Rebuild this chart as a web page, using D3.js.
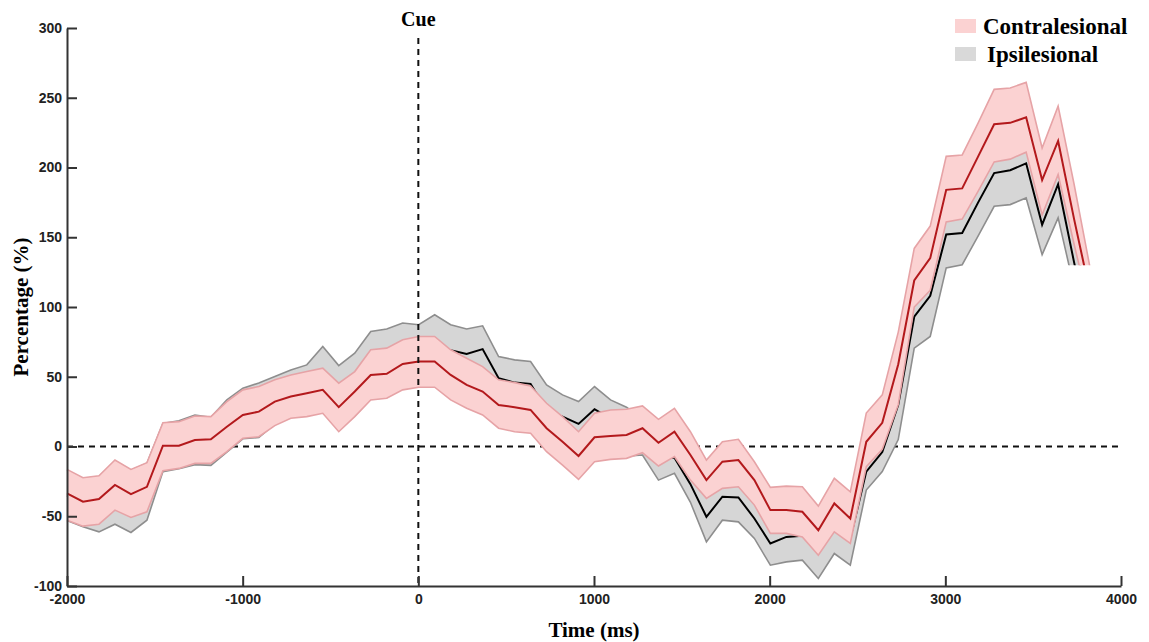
<!DOCTYPE html>
<html>
<head>
<meta charset="utf-8">
<script src="https://cdn.jsdelivr.net/npm/d3@7"></script>
<style>
  body { margin: 0; background: #fff; }
  svg { display: block; }
</style>
</head>
<body>
<div id="chart"></div>
<script>
// 1. data
const times = [-2000, -1909, -1818, -1727, -1636, -1545, -1454, -1363, -1272, -1181,
  -1090, -999, -908, -817, -726, -635, -544, -453, -362, -271,
  -180, -89, 2, 93, 184, 275, 366, 457, 548, 639,
  730, 821, 912, 1003, 1094, 1185, 1276, 1367, 1458, 1549,
  1640, 1731, 1822, 1913, 2004, 2095, 2186, 2277, 2368, 2459,
  2550, 2641, 2732, 2823, 2914, 3005, 3096, 3187, 3278, 3369,
  3460, 3551, 3642, 3733, 3824]

const contraMean = [-33.6, -39.6, -37.7, -27.6, -34.1, -28.9, 0.6, 0.6, 4.7, 5.2,
  14.2, 22.6, 25, 32.2, 35.8, 38.2, 40.6, 28.2, 39.4, 51.3,
  52.1, 59.2, 61, 61, 51.3, 44.2, 39.4, 29.8, 28.2, 26.2,
  13.1, 3.4, -6.8, 6.6, 7.5, 8.3, 13.1, 2.7, 10.6, -6.1,
  -24.1, -10.9, -9.7, -24.1, -45.6, -45.6, -46.8, -60, -40.8, -51.6,
  3.4, 17, 59, 119, 135, 184, 185, 208, 231, 232,
  236, 191, 219, 163, 110]
const contraUpper = [-16.4, -22.4, -21, -9.7, -16.4, -11.6, 17.1, 17.8, 21.9, 21.4,
  32.2, 40.6, 43, 47.8, 51.3, 53.7, 56.2, 45.4, 53.7, 69.3,
  70.5, 76.5, 78.9, 78.9, 69.3, 63.3, 57.3, 47.8, 45.8, 43.4,
  31, 21.4, 10.6, 23.8, 26.2, 26.7, 29.1, 19.5, 27.4, 10.6,
  -9.7, 3.4, 5.2, -10.9, -29.3, -28.4, -28.9, -42.7, -22.8, -32.5,
  24, 37, 82, 142, 158, 208, 209, 232, 256, 257,
  261, 214, 244, 188, 128]
const contraLower = [-52.8, -57.1, -55.7, -45.6, -50.9, -46.8, -17.4, -15.7, -12.1, -12.1,
  -3.7, 5.9, 7, 15, 20.3, 21.4, 23.8, 10.6, 21.4, 33.4,
  34.6, 40.6, 42.5, 42.5, 33.4, 27.4, 22.6, 13.1, 10.6, 9.5,
  -3.7, -13.3, -23.6, -10.9, -9.2, -8.5, -4.5, -14, -7.3, -24.1,
  -37.2, -30, -28.9, -42, -62.3, -62.3, -64.8, -77.9, -61.2, -69.5,
  -14.5, -2, 30, 100, 112, 161, 163, 183, 204, 206,
  211, 166, 195, 145, 97]

const ipsiMean = [-35, -40, -41, -33, -38, -31, -1, 1, 5, 4,
  15, 23, 26, 33, 37, 40, 46, 34, 44, 57,
  59, 64, 64, 70, 69, 66.4, 69.8, 49, 45.8, 44.9,
  26.2, 21.4, 16.2, 26.7, 20, 15, 6, -8, -8, -27,
  -50.4, -36, -36.5, -51.6, -69.5, -64.8, -64, -72, -57, -66,
  -18, -4, 30, 93, 108, 152, 153, 175, 196, 198,
  203, 159, 188, 132, 80]
const ipsiUpper = [-17, -23, -21.5, -10.5, -17, -12, 16.5, 18.5, 22.5, 21,
  33.4, 41.8, 45.5, 50.1, 54.9, 58.5, 71.7, 58, 66.9, 82.4,
  84.2, 88.5, 87.3, 94.4, 87.3, 84.2, 86.5, 64.5, 62.1, 60.9,
  44.2, 37, 32.2, 43, 33.4, 28.2, 20, 8, 10, -10,
  -34, -21, -21, -36, -55, -48, -48, -52, -40, -48,
  -5, 8, 50, 110, 125, 166, 168, 188, 208, 210,
  215, 170, 199, 150, 100]
const ipsiLower = [-53, -57.5, -61.2, -55.7, -61.6, -52.8, -18, -16, -13, -13.5,
  -4, 5.5, 6.5, 16, 21, 22, 25, 12, 22, 34,
  35, 42, 43, 45, 36, 30, 25, 16, 13, 12,
  0, -10, -20, -8, -7, -7, -6.1, -24.1, -19.2, -40,
  -68.4, -52.8, -54, -65.9, -85.1, -82.7, -81.5, -94.6, -76.7, -85.1,
  -31.2, -18, 5, 70.5, 78.9, 128, 130.3, 151, 172.2, 173.4,
  178.2, 137.5, 163.9, 114, 68]

const xTicks = [-2000, -1000, 0, 1000, 2000, 3000, 4000]
const yTicks = [-100, -50, 0, 50, 100, 150, 200, 250, 300]
const legendLabels = ["Contralesional", "Ipsilesional"]

const rows = times.map((t, i) => ({
  t: t,
  cMean: contraMean[i], cUp: contraUpper[i], cLo: contraLower[i],
  iMean: ipsiMean[i], iUp: ipsiUpper[i], iLo: ipsiLower[i],
}))

// 2. dimensions
let dimensions = {
  width: 1149,
  height: 642,
  margin: { top: 28, right: 28, bottom: 56, left: 67 },
}
dimensions.boundedWidth = dimensions.width - dimensions.margin.left - dimensions.margin.right
dimensions.boundedHeight = dimensions.height - dimensions.margin.top - dimensions.margin.bottom

// 3. canvas
const wrapper = d3.select("#chart")
  .append("svg")
    .attr("width", dimensions.width)
    .attr("height", dimensions.height)

const bounds = wrapper.append("g")
  .attr("transform", `translate(${dimensions.margin.left},${dimensions.margin.top})`)

// 4. scales
const xScale = d3.scaleLinear()
  .domain([-2000, 4000])
  .range([0, dimensions.boundedWidth])

const yScale = d3.scaleLinear()
  .domain([-100, 300])
  .range([dimensions.boundedHeight, 0])

const xAccessor = d => xScale(d.t)

// the traces are cut flat at 130 % on the far right of the figure
const clip = bounds.append("defs").append("clipPath").attr("id", "cut")
clip.append("rect")
  .attr("x", -5).attr("y", -5)
  .attr("width", dimensions.boundedWidth + 10)
  .attr("height", yScale(130) + 5)
clip.append("rect")
  .attr("x", -5).attr("y", -5)
  .attr("width", xScale(3600) + 5)
  .attr("height", dimensions.boundedHeight + 10)

// zero reference line (under the traces)
bounds.append("line")
  .attr("x1", 0).attr("x2", dimensions.boundedWidth)
  .attr("y1", yScale(0)).attr("y2", yScale(0))
  .attr("stroke", "#111")
  .attr("stroke-width", 2)
  .attr("stroke-dasharray", "6,5")

// 5. data
const traces = bounds.append("g").attr("clip-path", "url(#cut)")

const bandArea = (lo, up) => d3.area()
  .x(xAccessor)
  .y0(d => yScale(d[lo]))
  .y1(d => yScale(d[up]))

const lineOf = key => d3.line()
  .x(xAccessor)
  .y(d => yScale(d[key]))

// ipsilesional (gray)
traces.append("path")
  .attr("d", bandArea("iLo", "iUp")(rows))
  .attr("fill", "#d6d6d6")
traces.selectAll(".ipsi-edge")
  .data(["iLo", "iUp"])
  .join("path")
    .attr("class", "ipsi-edge")
    .attr("d", k => lineOf(k)(rows))
    .attr("fill", "none")
    .attr("stroke", "#8e8e8e")
    .attr("stroke-width", 1.6)
traces.append("path")
  .attr("d", lineOf("iMean")(rows))
  .attr("fill", "none")
  .attr("stroke", "#000")
  .attr("stroke-width", 2)

// contralesional (red)
traces.append("path")
  .attr("d", bandArea("cLo", "cUp")(rows))
  .attr("fill", "#fbd2d2")
traces.selectAll(".contra-edge")
  .data(["cLo", "cUp"])
  .join("path")
    .attr("class", "contra-edge")
    .attr("d", k => lineOf(k)(rows))
    .attr("fill", "none")
    .attr("stroke", "#e6a3a6")
    .attr("stroke-width", 1.6)
traces.append("path")
  .attr("d", lineOf("cMean")(rows))
  .attr("fill", "none")
  .attr("stroke", "#b3191c")
  .attr("stroke-width", 2)

// cue line
bounds.append("line")
  .attr("x1", xScale(0)).attr("x2", xScale(0))
  .attr("y1", 10).attr("y2", dimensions.boundedHeight)
  .attr("stroke", "#111")
  .attr("stroke-width", 2)
  .attr("stroke-dasharray", "6,5")

bounds.append("text")
  .attr("x", xScale(0))
  .attr("y", -2)
  .attr("text-anchor", "middle")
  .style("font-family", "'Liberation Serif', 'Times New Roman', serif")
  .style("font-weight", "bold")
  .style("font-size", "20px")
  .text("Cue")

// 6. peripherals
const xAxisGenerator = d3.axisBottom(xScale)
  .tickValues(xTicks)
  .tickFormat(d => String(d))
  .tickSizeInner(-10)
  .tickSizeOuter(0)
  .tickPadding(8)

const xAxis = bounds.append("g")
  .attr("transform", `translate(0,${dimensions.boundedHeight})`)
  .call(xAxisGenerator)

const yAxisGenerator = d3.axisLeft(yScale)
  .tickValues(yTicks)
  .tickFormat(d => String(d))
  .tickSizeInner(-10)
  .tickSizeOuter(0)
  .tickPadding(5)

const yAxis = bounds.append("g")
  .call(yAxisGenerator)

bounds.selectAll(".domain, .tick line")
  .attr("stroke", "#333")
  .attr("stroke-width", 2)
bounds.selectAll(".tick text")
  .attr("fill", "#222")
  .style("font-family", "'Liberation Sans', Arial, sans-serif")
  .style("font-weight", "bold")
  .style("font-size", "14px")

bounds.append("text")
  .attr("x", dimensions.boundedWidth / 2)
  .attr("y", dimensions.boundedHeight + 51)
  .attr("text-anchor", "middle")
  .style("font-family", "'Liberation Serif', 'Times New Roman', serif")
  .style("font-weight", "bold")
  .style("font-size", "21px")
  .text("Time (ms)")

bounds.append("text")
  .attr("transform", `translate(${-39},${dimensions.boundedHeight / 2}) rotate(-90)`)
  .attr("text-anchor", "middle")
  .style("font-family", "'Liberation Serif', 'Times New Roman', serif")
  .style("font-weight", "bold")
  .style("font-size", "21px")
  .text("Percentage (%)")

// legend
const legendColors = ["#fbd2d2", "#d9d9d9"]
const legend = wrapper.append("g")
  .attr("transform", "translate(955,19)")

const legendItems = legend.selectAll("g")
  .data(legendLabels)
  .join("g")
    .attr("transform", (d, i) => `translate(0,${i * 28})`)

legendItems.append("rect")
  .attr("width", 21)
  .attr("height", 14)
  .attr("fill", (d, i) => legendColors[i])

legendItems.append("text")
  .attr("x", (d, i) => i === 0 ? 28 : 32)
  .attr("y", 15)
  .style("font-family", "'Liberation Serif', 'Times New Roman', serif")
  .style("font-weight", "bold")
  .style("font-size", "23px")
  .text(d => d)
</script>
</body>
</html>
